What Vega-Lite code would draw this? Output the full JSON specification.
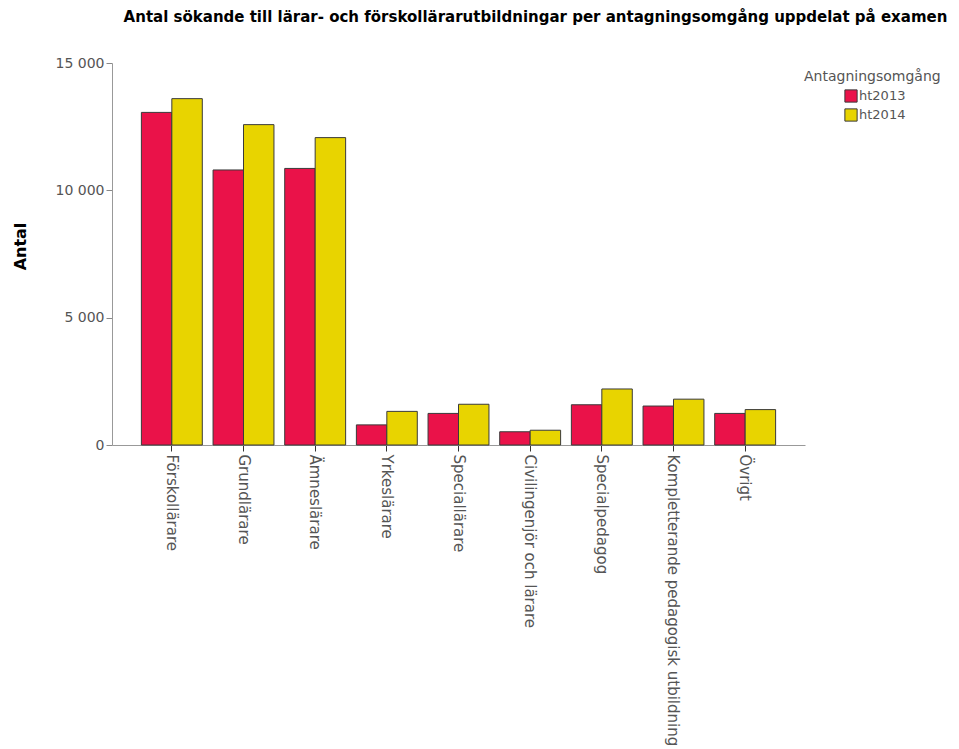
{
  "$schema": "https://vega.github.io/schema/vega-lite/v6.json",
  "width": 693,
  "height": 382,
  "autosize": {"type": "none"},
  "padding": {"left": 112, "top": 63, "right": 154, "bottom": 304},
  "background": "white",
  "title": {
    "text": "Antal sökande till lärar- och förskollärarutbildningar per antagningsomgång uppdelat på examen",
    "font": "DejaVu Sans",
    "fontSize": 15,
    "fontWeight": "bold",
    "color": "#000000",
    "anchor": "middle",
    "dx": 77,
    "offset": 31
  },
  "data": {
    "values": [
      {"Examen": "Förskollärare", "Omgang": "ht2013", "Antal": 13060},
      {"Examen": "Förskollärare", "Omgang": "ht2014", "Antal": 13600},
      {"Examen": "Grundlärare", "Omgang": "ht2013", "Antal": 10800},
      {"Examen": "Grundlärare", "Omgang": "ht2014", "Antal": 12580},
      {"Examen": "Ämneslärare", "Omgang": "ht2013", "Antal": 10860},
      {"Examen": "Ämneslärare", "Omgang": "ht2014", "Antal": 12070},
      {"Examen": "Yrkeslärare", "Omgang": "ht2013", "Antal": 790},
      {"Examen": "Yrkeslärare", "Omgang": "ht2014", "Antal": 1320},
      {"Examen": "Speciallärare", "Omgang": "ht2013", "Antal": 1240},
      {"Examen": "Speciallärare", "Omgang": "ht2014", "Antal": 1600},
      {"Examen": "Civilingenjör och lärare", "Omgang": "ht2013", "Antal": 520},
      {"Examen": "Civilingenjör och lärare", "Omgang": "ht2014", "Antal": 580},
      {"Examen": "Specialpedagog", "Omgang": "ht2013", "Antal": 1580},
      {"Examen": "Specialpedagog", "Omgang": "ht2014", "Antal": 2200},
      {"Examen": "Kompletterande pedagogisk utbildning", "Omgang": "ht2013", "Antal": 1530},
      {"Examen": "Kompletterande pedagogisk utbildning", "Omgang": "ht2014", "Antal": 1800},
      {"Examen": "Övrigt", "Omgang": "ht2013", "Antal": 1240},
      {"Examen": "Övrigt", "Omgang": "ht2014", "Antal": 1390}
    ]
  },
  "mark": {"type": "bar", "stroke": "#3a3a3a", "strokeWidth": 1},
  "encoding": {
    "x": {
      "field": "Examen",
      "type": "nominal",
      "sort": null,
      "scale": {"paddingInner": 0.15, "paddingOuter": 0.41},
      "axis": {
        "title": null,
        "labelAngle": 90,
        "labelAlign": "left",
        "labelBaseline": "middle",
        "labelFont": "DejaVu Sans",
        "labelFontSize": 15,
        "labelColor": "#555555",
        "labelPadding": 3,
        "labelLimit": 400,
        "tickColor": "#333333",
        "tickSize": 6,
        "domainColor": "#999999",
        "grid": false
      }
    },
    "xOffset": {"field": "Omgang", "type": "nominal"},
    "y": {
      "field": "Antal",
      "type": "quantitative",
      "scale": {"domain": [0, 15000], "nice": false},
      "axis": {
        "title": "Antal",
        "titleFont": "DejaVu Sans",
        "titleFontSize": 16,
        "titleFontWeight": "bold",
        "titleColor": "#000000",
        "titlePadding": 27,
        "titleY": 183,
        "values": [0, 5000, 10000, 15000],
        "labelExpr": "replace(format(datum.value, ','), ',', ' ')",
        "labelFont": "DejaVu Sans",
        "labelFontSize": 14,
        "labelColor": "#555555",
        "tickColor": "#888888",
        "tickSize": 6,
        "domainColor": "#999999",
        "grid": false
      }
    },
    "color": {
      "field": "Omgang",
      "type": "nominal",
      "scale": {"domain": ["ht2013", "ht2014"], "range": ["#ea1249", "#e8d400"]},
      "legend": {
        "title": "Antagningsomgång",
        "orient": "none",
        "legendX": 692,
        "legendY": 7,
        "titleFont": "DejaVu Sans",
        "titleFontSize": 14,
        "titleFontWeight": "normal",
        "titleColor": "#555555",
        "titlePadding": 5,
        "labelFont": "DejaVu Sans",
        "labelFontSize": 13,
        "labelColor": "#555555",
        "labelOffset": 1,
        "symbolType": "square",
        "symbolSize": 150,
        "symbolStrokeColor": "#3a3a3a",
        "symbolStrokeWidth": 1,
        "symbolOffset": 40,
        "rowPadding": 1
      }
    }
  },
  "config": {"view": {"stroke": null}}
}
